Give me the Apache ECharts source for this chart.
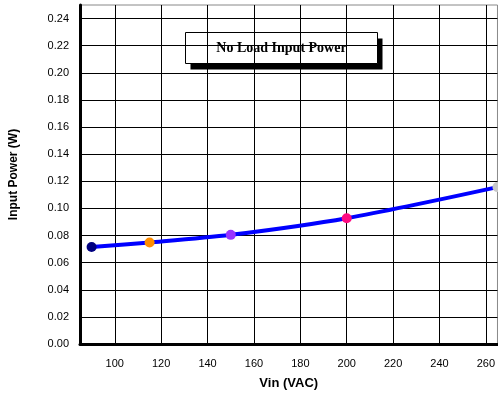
<!DOCTYPE html>
<html>
<head>
<meta charset="utf-8">
<script src="https://cdn.jsdelivr.net/npm/echarts@6/dist/echarts.min.js"></script>
<style>
  html, body { margin: 0; padding: 0; background: #fff; }
  #chart { width: 498px; height: 398px; }
</style>
</head>
<body>
<div id="chart"></div>
<script>
// values
const vin = [90, 115, 150, 200, 265]
const power = [0.0715, 0.0748, 0.0805, 0.0928, 0.1157]
const pointColors = ['#000080', '#ff8c00', '#9933ff', '#ff0a80', '#c8c8c8']
const xTicks = [100, 120, 140, 160, 180, 200, 220, 240, 260]
const yTicks = [0, 0.02, 0.04, 0.06, 0.08, 0.10, 0.12, 0.14, 0.16, 0.18, 0.20, 0.22, 0.24]

const chart = echarts.init(document.getElementById('chart'))

const points = vin.map((v, i) => ({
  value: [v, power[i]],
  itemStyle: { color: pointColors[i] }
}))

chart.setOption({
  animation: false,
  grid: {
    left: 78, top: 5, right: 0, bottom: 54,
    show: true, borderColor: '#888', borderWidth: 1
  },
  xAxis: {
    type: 'value', min: 85, max: 265,
    name: 'Vin (VAC)', nameLocation: 'middle', nameGap: 33,
    nameTextStyle: { fontFamily: 'Liberation Sans', fontWeight: 'bold', fontSize: 13, color: '#000' },
    axisLine: { show: true, lineStyle: { color: '#000', width: 3 } },
    axisTick: { show: false, customValues: xTicks },
    axisLabel: {
      customValues: xTicks, margin: 14,
      fontFamily: 'Liberation Sans', fontSize: 11, color: '#000'
    },
    splitLine: { show: true, lineStyle: { color: '#000', width: 1 } }
  },
  yAxis: {
    type: 'value', min: 0, max: 0.25,
    name: 'Input Power (W)', nameLocation: 'middle', nameGap: 60, nameRotate: 90,
    nameTextStyle: { fontFamily: 'Liberation Sans', fontWeight: 'bold', fontSize: 12, color: '#000' },
    axisLine: { show: true, lineStyle: { color: '#000', width: 3 } },
    axisTick: { show: false, customValues: yTicks },
    axisLabel: {
      customValues: yTicks, margin: 11,
      formatter: v => v.toFixed(2),
      fontFamily: 'Liberation Sans', fontSize: 11, color: '#000'
    },
    splitLine: { show: true, lineStyle: { color: '#000', width: 1 } }
  },
  graphic: [{
    type: 'group',
    left: 185, top: 32,
    children: [{
      type: 'rect',
      shape: { x: 5, y: 6, width: 192, height: 31 },
      style: { fill: '#000' }
    }, {
      type: 'rect',
      shape: { x: 0, y: 0, width: 192, height: 31 },
      style: { fill: '#fff', stroke: '#000', lineWidth: 1 }
    }, {
      type: 'text',
      x: 96, y: 16,
      style: {
        text: 'No Load Input Power',
        font: 'bold 14px "Liberation Serif"',
        fill: '#000', align: 'center', verticalAlign: 'middle'
      }
    }]
  }],
  series: [{
    type: 'line',
    data: points,
    smooth: 0.3,
    symbol: 'circle',
    symbolSize: 10,
    clip: false,
    lineStyle: { color: '#0000ff', width: 4 }
  }]
})
</script>
</body>
</html>
